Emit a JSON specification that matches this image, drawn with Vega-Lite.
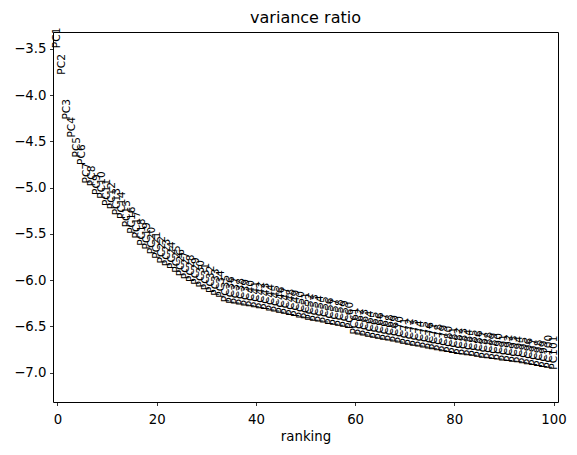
{
  "$schema": "https://vega.github.io/schema/vega-lite/v6.json",
  "autosize": {"type": "none"},
  "width": 505,
  "height": 370,
  "padding": {"left": 53, "top": 32, "right": 19, "bottom": 53},
  "background": "white",
  "title": {"text": "variance ratio", "fontSize": 16, "fontWeight": "normal", "font": "DejaVu Sans", "color": "black", "offset": 2},
  "config": {
    "view": {"stroke": "black", "strokeWidth": 1},
    "axis": {"grid": false, "domain": false, "tickColor": "black", "tickSize": 3.5, "tickWidth": 0.8, "labelFont": "DejaVu Sans", "labelFontSize": 13.3, "labelColor": "black", "labelPadding": 3.5, "titleFont": "DejaVu Sans", "titleFontSize": 13.3, "titleFontWeight": "normal", "titleColor": "black"}
  },
  "data": {"values": [
    {"ranking": 0, "score": -3.493, "label": "PC1"},
    {"ranking": 1, "score": -3.78, "label": "PC2"},
    {"ranking": 2, "score": -4.265, "label": "PC3"},
    {"ranking": 3, "score": -4.46, "label": "PC4"},
    {"ranking": 4, "score": -4.675, "label": "PC5"},
    {"ranking": 5, "score": -4.755, "label": "PC6"},
    {"ranking": 6, "score": -4.955, "label": "PC7"},
    {"ranking": 7, "score": -4.985, "label": "PC8"},
    {"ranking": 8, "score": -5.08, "label": "PC9"},
    {"ranking": 9, "score": -5.12, "label": "PC10"},
    {"ranking": 10, "score": -5.2, "label": "PC11"},
    {"ranking": 11, "score": -5.235, "label": "PC12"},
    {"ranking": 12, "score": -5.3, "label": "PC13"},
    {"ranking": 13, "score": -5.34, "label": "PC14"},
    {"ranking": 14, "score": -5.43, "label": "PC15"},
    {"ranking": 15, "score": -5.5, "label": "PC16"},
    {"ranking": 16, "score": -5.55, "label": "PC17"},
    {"ranking": 17, "score": -5.63, "label": "PC18"},
    {"ranking": 18, "score": -5.67, "label": "PC19"},
    {"ranking": 19, "score": -5.72, "label": "PC20"},
    {"ranking": 20, "score": -5.77, "label": "PC21"},
    {"ranking": 21, "score": -5.82, "label": "PC22"},
    {"ranking": 22, "score": -5.85, "label": "PC23"},
    {"ranking": 23, "score": -5.88, "label": "PC24"},
    {"ranking": 24, "score": -5.92, "label": "PC25"},
    {"ranking": 25, "score": -5.96, "label": "PC26"},
    {"ranking": 26, "score": -5.99, "label": "PC27"},
    {"ranking": 27, "score": -6.02, "label": "PC28"},
    {"ranking": 28, "score": -6.05, "label": "PC29"},
    {"ranking": 29, "score": -6.08, "label": "PC30"},
    {"ranking": 30, "score": -6.11, "label": "PC31"},
    {"ranking": 31, "score": -6.14, "label": "PC32"},
    {"ranking": 32, "score": -6.17, "label": "PC33"},
    {"ranking": 33, "score": -6.19, "label": "PC34"},
    {"ranking": 34, "score": -6.24, "label": "PC35"},
    {"ranking": 35, "score": -6.255, "label": "PC36"},
    {"ranking": 36, "score": -6.265, "label": "PC37"},
    {"ranking": 37, "score": -6.275, "label": "PC38"},
    {"ranking": 38, "score": -6.285, "label": "PC39"},
    {"ranking": 39, "score": -6.295, "label": "PC40"},
    {"ranking": 40, "score": -6.305, "label": "PC41"},
    {"ranking": 41, "score": -6.315, "label": "PC42"},
    {"ranking": 42, "score": -6.325, "label": "PC43"},
    {"ranking": 43, "score": -6.34, "label": "PC44"},
    {"ranking": 44, "score": -6.35, "label": "PC45"},
    {"ranking": 45, "score": -6.365, "label": "PC46"},
    {"ranking": 46, "score": -6.375, "label": "PC47"},
    {"ranking": 47, "score": -6.39, "label": "PC48"},
    {"ranking": 48, "score": -6.4, "label": "PC49"},
    {"ranking": 49, "score": -6.415, "label": "PC50"},
    {"ranking": 50, "score": -6.425, "label": "PC51"},
    {"ranking": 51, "score": -6.44, "label": "PC52"},
    {"ranking": 52, "score": -6.45, "label": "PC53"},
    {"ranking": 53, "score": -6.46, "label": "PC54"},
    {"ranking": 54, "score": -6.47, "label": "PC55"},
    {"ranking": 55, "score": -6.485, "label": "PC56"},
    {"ranking": 56, "score": -6.495, "label": "PC57"},
    {"ranking": 57, "score": -6.505, "label": "PC58"},
    {"ranking": 58, "score": -6.515, "label": "PC59"},
    {"ranking": 59, "score": -6.53, "label": "PC60"},
    {"ranking": 60, "score": -6.59, "label": "PC61"},
    {"ranking": 61, "score": -6.6, "label": "PC62"},
    {"ranking": 62, "score": -6.61, "label": "PC63"},
    {"ranking": 63, "score": -6.625, "label": "PC64"},
    {"ranking": 64, "score": -6.635, "label": "PC65"},
    {"ranking": 65, "score": -6.645, "label": "PC66"},
    {"ranking": 66, "score": -6.655, "label": "PC67"},
    {"ranking": 67, "score": -6.665, "label": "PC68"},
    {"ranking": 68, "score": -6.675, "label": "PC69"},
    {"ranking": 69, "score": -6.685, "label": "PC70"},
    {"ranking": 70, "score": -6.7, "label": "PC71"},
    {"ranking": 71, "score": -6.71, "label": "PC72"},
    {"ranking": 72, "score": -6.72, "label": "PC73"},
    {"ranking": 73, "score": -6.73, "label": "PC74"},
    {"ranking": 74, "score": -6.74, "label": "PC75"},
    {"ranking": 75, "score": -6.75, "label": "PC76"},
    {"ranking": 76, "score": -6.76, "label": "PC77"},
    {"ranking": 77, "score": -6.77, "label": "PC78"},
    {"ranking": 78, "score": -6.78, "label": "PC79"},
    {"ranking": 79, "score": -6.79, "label": "PC80"},
    {"ranking": 80, "score": -6.8, "label": "PC81"},
    {"ranking": 81, "score": -6.81, "label": "PC82"},
    {"ranking": 82, "score": -6.815, "label": "PC83"},
    {"ranking": 83, "score": -6.825, "label": "PC84"},
    {"ranking": 84, "score": -6.83, "label": "PC85"},
    {"ranking": 85, "score": -6.84, "label": "PC86"},
    {"ranking": 86, "score": -6.85, "label": "PC87"},
    {"ranking": 87, "score": -6.855, "label": "PC88"},
    {"ranking": 88, "score": -6.865, "label": "PC89"},
    {"ranking": 89, "score": -6.87, "label": "PC90"},
    {"ranking": 90, "score": -6.88, "label": "PC91"},
    {"ranking": 91, "score": -6.885, "label": "PC92"},
    {"ranking": 92, "score": -6.895, "label": "PC93"},
    {"ranking": 93, "score": -6.9, "label": "PC94"},
    {"ranking": 94, "score": -6.91, "label": "PC95"},
    {"ranking": 95, "score": -6.92, "label": "PC96"},
    {"ranking": 96, "score": -6.93, "label": "PC97"},
    {"ranking": 97, "score": -6.94, "label": "PC98"},
    {"ranking": 98, "score": -6.95, "label": "PC99"},
    {"ranking": 99, "score": -6.96, "label": "PC100"},
    {"ranking": 100, "score": -6.97, "label": "PC101"}
  ]},
  "mark": {"type": "text", "angle": 270, "align": "left", "baseline": "middle", "font": "DejaVu Sans", "fontSize": 10.67, "color": "black"},
  "encoding": {
    "x": {"field": "ranking", "type": "quantitative", "title": "ranking", "scale": {"domain": [-0.9, 100.9], "nice": false, "zero": false},
      "axis": {"values": [0, 20, 40, 60, 80, 100], "format": "d", "labelPadding": 7, "titlePadding": 4}},
    "y": {"field": "score", "type": "quantitative", "title": null, "scale": {"domain": [-7.3185, -3.318], "nice": false, "zero": false},
      "axis": {"values": [-7, -6.5, -6, -5.5, -5, -4.5, -4, -3.5], "format": ".1f"}},
    "text": {"field": "label", "type": "nominal"}
  }
}
